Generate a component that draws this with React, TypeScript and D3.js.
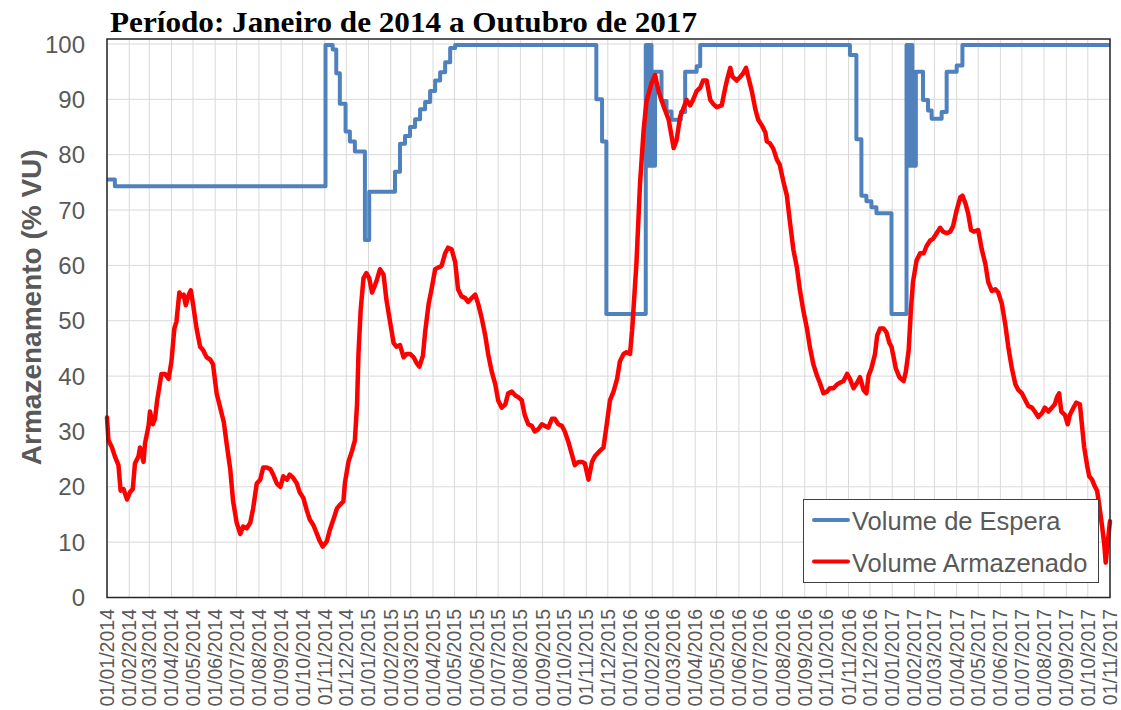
import React from 'react';
import * as d3 from 'd3';

const inicio = new Date(2014, 0, 1);
const fim = new Date(2017, 10, 1);

// Volume de Espera (% VU) - dias desde 01/01/2014 (degraus)
const esperaDias = [
  0, 11, 305, 315, 320, 325, 333, 339, 346, 360, 366, 402, 409, 416, 423, 430, 437, 444, 451, 458,
  465, 472, 479, 486, 683, 691, 697, 752, 754, 755, 757, 758, 760, 761, 763, 765, 774, 781, 788, 801,
  807, 823, 828, 1037, 1046, 1053, 1060, 1067, 1074, 1095, 1116, 1118, 1119, 1121, 1122, 1124, 1125, 1127, 1129, 1139,
  1146, 1151, 1165, 1172, 1186, 1194, 1400,
];
const esperaValores = [
  75.5, 74.3, 99.8, 99.0, 94.7, 89.2, 84.2, 82.4, 80.6, 64.6, 73.3, 76.9, 82.0, 83.4, 85.0, 86.4, 88.2, 89.5, 91.5, 93.4,
  94.9, 96.7, 99.3, 99.8, 90.0, 82.4, 51.2, 99.8, 78, 99.8, 78, 99.8, 78, 95, 78, 95, 89.7, 87.8, 86.3, 87.7,
  95.0, 96.0, 99.8, 98.0, 82.8, 72.6, 71.6, 70.5, 69.4, 51.2, 99.8, 78, 99.8, 78, 99.8, 78, 95, 78, 95, 89.9,
  88.0, 86.5, 87.7, 95.0, 96.1, 99.8, 99.8,
];

// Volume Armazenado (% VU) - dias desde 01/01/2014
const armazenadoDias = [
  0, 2, 7, 11, 16, 19, 23, 28, 32, 36, 39, 44, 46, 51, 53, 58, 60, 64, 67, 70,
  74, 76, 81, 86, 90, 94, 97, 101, 104, 107, 110, 114, 117, 120, 125, 130, 134, 139, 144, 148,
  153, 158, 163, 167, 172, 176, 181, 186, 190, 195, 200, 204, 209, 214, 218, 223, 228, 232, 237, 242,
  246, 251, 255, 260, 265, 269, 274, 279, 283, 288, 293, 297, 301, 307, 311, 316, 321, 325, 330, 332,
  337, 342, 346, 349, 351, 354, 358, 362, 366, 370, 374, 377, 381, 386, 390, 395, 400, 404, 409, 414,
  418, 423, 428, 432, 436, 441, 444, 449, 453, 458, 462, 467, 472, 476, 481, 486, 490, 495, 500, 504,
  509, 514, 518, 523, 528, 532, 537, 542, 546, 551, 556, 560, 565, 570, 574, 579, 583, 588, 593, 597,
  602, 607, 611, 616, 621, 625, 630, 635, 639, 644, 649, 653, 658, 663, 667, 672, 677, 681, 688, 693,
  698, 702, 707, 712, 716, 721, 725, 730, 733, 739, 744, 749, 753, 760, 765, 770, 777, 784, 791, 795,
  800, 804, 809, 814, 818, 823, 828, 832, 837, 842, 846, 851, 858, 863, 866, 870, 873, 879, 884, 888,
  892, 895, 900, 905, 909, 914, 919, 921, 925, 930, 935, 939, 944, 949, 953, 958, 963, 967, 972, 977,
  981, 986, 991, 995, 1000, 1005, 1009, 1014, 1019, 1023, 1028, 1033, 1037, 1042, 1047, 1051, 1056, 1060, 1063, 1067,
  1072, 1075, 1079, 1084, 1088, 1092, 1095, 1098, 1101, 1106, 1112, 1115, 1119, 1122, 1125, 1130, 1135, 1140, 1144, 1149,
  1153, 1158, 1163, 1167, 1172, 1177, 1181, 1186, 1191, 1194, 1198, 1202, 1206, 1210, 1216, 1221, 1226, 1230, 1235, 1240,
  1244, 1249, 1254, 1258, 1263, 1268, 1272, 1277, 1282, 1286, 1291, 1295, 1300, 1305, 1309, 1314, 1319, 1323, 1326, 1329,
  1332, 1337, 1341, 1344, 1349, 1353, 1358, 1361, 1364, 1368, 1371, 1375, 1378, 1382, 1385, 1389, 1392, 1394, 1397, 1400,
];
const armazenadoValores = [
  32.5, 28.4, 27.1, 25.5, 23.9, 19.3, 19.6, 17.7, 19.0, 19.6, 24.2, 25.5, 27.1, 24.5, 27.8, 31.0, 33.6, 31.3, 32.3, 35.6,
  38.8, 40.4, 40.4, 39.5, 42.7, 48.6, 49.9, 55.1, 54.4, 54.7, 52.8, 54.7, 55.5, 53.1, 48.6, 45.3, 44.7, 43.4, 43.0, 42.1,
  36.9, 34.3, 31.7, 27.8, 23.2, 17.4, 13.5, 11.5, 12.8, 12.5, 13.5, 16.1, 20.6, 21.3, 23.5, 23.5, 23.2, 22.2, 20.6, 20.0,
  21.9, 21.3, 22.2, 21.6, 20.6, 19.0, 18.0, 15.7, 14.1, 13.1, 11.5, 10.2, 9.2, 10.2, 12.2, 14.1, 16.1, 16.7, 17.4, 20.6,
  24.5, 26.5, 28.4, 34.9, 44.0, 51.8, 57.7, 58.6, 57.7, 55.1, 56.4, 57.5, 59.3, 58.3, 53.8, 49.9, 46.0, 45.3, 45.6, 43.4,
  44.0, 44.0, 43.4, 42.4, 41.7, 43.7, 47.9, 53.1, 55.7, 59.3, 59.6, 59.9, 62.2, 63.2, 62.9, 60.6, 55.7, 54.4, 54.1, 53.4,
  54.1, 54.7, 53.1, 50.5, 47.3, 44.0, 40.8, 38.5, 35.6, 34.3, 34.9, 36.9, 37.2, 36.5, 36.2, 35.6, 33.0, 31.3, 31.0, 30.0,
  30.4, 31.3, 31.0, 30.7, 32.3, 32.3, 31.3, 31.0, 30.0, 28.1, 25.8, 23.9, 24.5, 24.5, 24.2, 21.3, 24.5, 25.5, 26.5, 27.1,
  31.7, 35.6, 37.2, 39.5, 42.7, 44.0, 44.3, 44.0, 48.3, 60.4, 74.8, 84.4, 89.6, 92.9, 94.4, 91.4, 88.7, 86.3, 81.2, 82.6,
  86.9, 88.2, 89.9, 88.9, 89.9, 91.5, 92.1, 93.4, 93.4, 89.9, 89.2, 88.6, 88.9, 92.1, 93.8, 95.7, 94.1, 93.4, 94.1, 94.7,
  95.7, 94.1, 91.5, 88.2, 86.3, 85.3, 84.0, 82.4, 82.1, 81.1, 79.1, 78.2, 75.2, 72.6, 68.1, 62.9, 59.6, 55.7, 51.8, 48.6,
  45.3, 42.1, 40.1, 38.8, 36.9, 37.2, 37.8, 37.8, 38.5, 38.8, 39.1, 40.4, 39.5, 37.8, 38.8, 39.8, 37.5, 36.9, 40.1, 41.4,
  44.0, 47.3, 48.6, 48.6, 47.9, 46.0, 45.3, 43.4, 41.4, 39.8, 39.1, 40.8, 44.7, 51.8, 57.0, 60.9, 62.2, 62.2, 63.5, 64.5,
  64.8, 65.8, 66.8, 66.1, 65.8, 66.1, 67.1, 70.0, 72.3, 72.6, 71.3, 69.4, 66.4, 66.1, 66.4, 62.9, 60.3, 57.0, 55.4, 55.7,
  55.1, 53.1, 49.2, 45.3, 41.4, 38.5, 37.5, 36.9, 35.6, 34.6, 34.3, 33.6, 32.6, 33.3, 34.3, 33.6, 34.3, 34.9, 36.2, 36.9,
  33.6, 33.0, 31.3, 33.0, 34.3, 35.2, 34.9, 31.0, 27.1, 23.9, 21.9, 21.3, 20.3, 19.3, 16.7, 12.8, 9.6, 6.3, 10.2, 13.8,
];

const yTicks = [0, 10, 20, 30, 40, 50, 60, 70, 80, 90, 100];
const seriesNomes = ['Volume de Espera', 'Volume Armazenado'];
const seriesCores = ['#4F81BD', '#FF0000'];

const W = 1121;
const H = 710;

export default function App() {
  const x = d3.scaleTime().domain([inicio, fim]).range([107, 1110]);
  const y = d3.scaleLinear().domain([0, 100]).range([597.5, 44]);

  const toPts = (dias: number[], vals: number[]) =>
    dias.map((d, i) => ({ date: d3.timeDay.offset(inicio, d), v: vals[i] }));

  const espera = toPts(esperaDias, esperaValores);
  const armazenado = toPts(armazenadoDias, armazenadoValores);

  const lineStep = d3.line<{ date: Date; v: number }>()
    .x(d => x(d.date))
    .y(d => y(d.v))
    .curve(d3.curveStepAfter);
  const lineLin = d3.line<{ date: Date; v: number }>()
    .x(d => x(d.date))
    .y(d => y(d.v));

  const meses = d3.timeMonth.range(inicio, d3.timeDay.offset(fim, 1));
  const fmt = d3.timeFormat('%d/%m/%Y');
  const top = y(100) - 5;
  const bottom = y(0);
  const left = x.range()[0];
  const right = x.range()[1];

  return (
    <svg width={W} height={H} style={{ position: 'absolute', left: 0, top: 0, background: '#fff' }}
      fontFamily="Arial, 'Liberation Sans', sans-serif">
      <text x={110} y={32} fontFamily="'Times New Roman', 'Liberation Serif', serif" fontWeight="bold"
        fontSize={30} fill="#000" textLength={587} lengthAdjust="spacingAndGlyphs">
        Período: Janeiro de 2014 a Outubro de 2017
      </text>

      {/* grade */}
      <g stroke="#D9D9D9" strokeWidth={1}>
        {meses.map((m, i) => (
          <line key={'v' + i} x1={x(m)} x2={x(m)} y1={top} y2={bottom} />
        ))}
        {yTicks.map(t => (
          <line key={'h' + t} x1={left} x2={right} y1={y(t)} y2={y(t)} />
        ))}
      </g>

      {/* eixo y */}
      <g fill="#595959" fontSize={24} textAnchor="end">
        {yTicks.map(t => (
          <text key={t} x={85} y={y(t)} dominantBaseline="central">{t}</text>
        ))}
      </g>
      <text transform={`translate(31,${(top + bottom) / 2 - 11}) rotate(-90)`} textAnchor="middle"
        dominantBaseline="central" fontWeight="bold" fontSize={28} fill="#595959">Armazenamento (% VU)</text>

      {/* eixo x */}
      <g fill="#595959" fontSize={19.5}>
        {meses.map((m, i) => (
          <text key={i} transform={`translate(${x(m)},609) rotate(-90)`} textAnchor="end"
            dominantBaseline="central">{fmt(m)}</text>
        ))}
      </g>

      {/* séries */}
      <path d={lineStep(espera) || ''} fill="none" stroke={seriesCores[0]} strokeWidth={4}
        strokeLinejoin="round" />
      <path d={lineLin(armazenado) || ''} fill="none" stroke={seriesCores[1]} strokeWidth={4.5}
        strokeLinejoin="round" strokeLinecap="round" />

      {/* moldura */}
      <rect x={left} y={top} width={right - left} height={bottom - top} fill="none" stroke="#262626"
        strokeWidth={1.5} />

      {/* legenda */}
      <g>
        <rect x={803.5} y={499.5} width={295} height={83} fill="#fff" stroke="#404040" strokeWidth={1} />
        {seriesNomes.map((s, i) => (
          <g key={s} transform={`translate(0,${520 + i * 41.5})`}>
            <line x1={814} x2={848} y1={0} y2={0} stroke={seriesCores[i]} strokeWidth={4} strokeLinecap="round" />
            <text x={852} y={1} dominantBaseline="central" fontSize={25.5} fill="#595959">{s}</text>
          </g>
        ))}
      </g>
    </svg>
  );
}
